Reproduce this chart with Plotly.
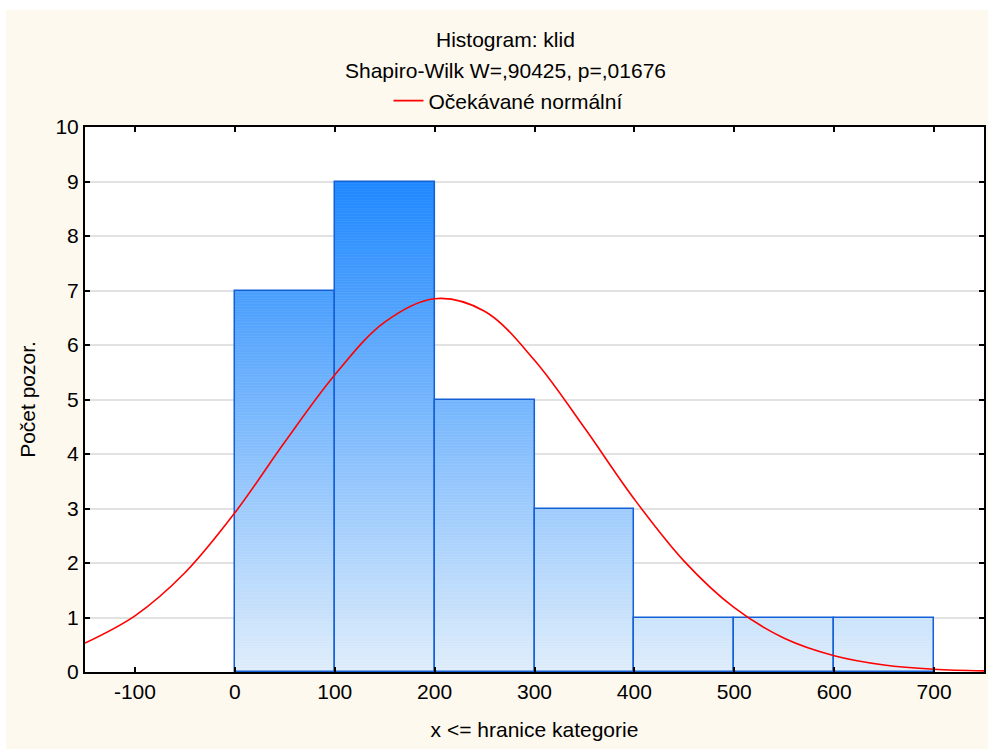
import plotly.graph_objects as go

# ---- data ----
bin_left = [0, 100, 200, 300, 400, 500, 600]
bin_right = [100, 200, 300, 400, 500, 600, 700]
counts = [7, 9, 5, 3, 1, 1, 1]

curve_x = [-150, -100, -50, 0, 50, 100, 150, 200, 250, 300, 350, 400, 450, 500, 550, 600, 650, 700, 750]
curve_y = [0.53, 1.03, 1.82, 2.92, 4.22, 5.45, 6.42, 6.85, 6.62, 5.72, 4.48, 3.17, 2.03, 1.18, 0.62, 0.30, 0.13, 0.05, 0.02]

x_ticks = [-100, 0, 100, 200, 300, 400, 500, 600, 700]
y_ticks = list(range(0, 11))

title1 = "Histogram: klid"
title2 = "Shapiro-Wilk W=,90425, p=,01676"
legend_name = "Očekávané normální"
x_title = "x <= hranice kategorie"
y_title = "Počet pozor."

# ---- styling ----
FONT = "Liberation Sans, Arial, sans-serif"
FS = 21
top_rgb = (30, 136, 255)
bot_rgb = (224, 238, 252)
grad_top = max(counts)
dh = 0.05

def grad_color(y):
    t = max(0.0, min(1.0, y / grad_top))
    r = [round(b + (a - b) * t) for a, b in zip(top_rgb, bot_rgb)]
    return f"rgb({r[0]},{r[1]},{r[2]})"

centers = [(l + r) / 2 for l, r in zip(bin_left, bin_right)]
widths = [r - l for l, r in zip(bin_left, bin_right)]

sx, sy, sb, sc, sw = [], [], [], [], []
for c, w, n in zip(centers, widths, counts):
    k = 0
    while k * dh < n - 1e-9:
        base = k * dh
        h = min(dh, n - base)
        sx.append(c)
        sy.append(h)
        sb.append(base)
        sc.append(grad_color(base + h / 2))
        sw.append(w)
        k += 1

fig = go.Figure()
fig.add_trace(go.Bar(
    x=sx, y=sy, base=sb, width=sw,
    marker=dict(color=sc, line=dict(color=sc, width=0.6)),
    showlegend=False, hoverinfo="skip"))
fig.add_trace(go.Bar(
    x=centers, y=counts, width=widths,
    marker=dict(color="rgba(0,0,0,0)", line=dict(color="#1560d6", width=1.5)),
    showlegend=False))
fig.add_trace(go.Scatter(
    x=curve_x, y=curve_y, mode="lines", name=legend_name,
    line=dict(color="#ff0000", width=1.6, shape="spline", smoothing=1.0)))

L, R, T, B = 85, 4, 127, 77
W, H = 988, 749
pw, ph = W - L - R, H - T - B

def px_to_paper_x(px):
    return (px - L) / pw

def px_to_paper_y(py):
    return (H - B - py) / ph

# cream page background, white plot area on top of it
fig.add_shape(type="rect", xref="paper", yref="paper",
              x0=px_to_paper_x(6), x1=px_to_paper_x(990),
              y0=px_to_paper_y(752), y1=px_to_paper_y(10),
              fillcolor="#fef9ee", line=dict(width=0), layer="below")
fig.add_shape(type="rect", xref="paper", yref="paper",
              x0=0, x1=1, y0=0, y1=1,
              fillcolor="white", line=dict(width=0), layer="below")

fig.add_annotation(text=title1, xref="paper", yref="paper",
                   x=px_to_paper_x(505), y=px_to_paper_y(40),
                   xanchor="center", yanchor="middle",
                   showarrow=False, font=dict(family=FONT, size=FS, color="black"))
fig.add_annotation(text=title2, xref="paper", yref="paper",
                   x=px_to_paper_x(505), y=px_to_paper_y(70),
                   xanchor="center", yanchor="middle",
                   showarrow=False, font=dict(family=FONT, size=FS, color="black"))

fig.update_layout(
    width=W, height=H,
    margin=dict(l=L, r=R, t=T, b=B, autoexpand=False),
    paper_bgcolor="white", plot_bgcolor="white",
    barmode="overlay", bargap=0,
    font=dict(family=FONT, size=FS, color="black"),
    showlegend=True,
    legend=dict(orientation="h", xref="container", yref="container",
                x=508 / W, xanchor="center", y=1 - 101 / H, yanchor="middle",
                bgcolor="rgba(0,0,0,0)", font=dict(family=FONT, size=FS)),
)
fig.update_xaxes(
    range=[-150, 750], tickvals=x_ticks, ticktext=[str(v) for v in x_ticks],
    ticks="inside", ticklen=5, tickwidth=1.5, tickcolor="black",
    showline=True, linecolor="black", linewidth=2, mirror="ticks",
    showgrid=False, zeroline=False,
    title=dict(text=x_title, standoff=20, font=dict(family=FONT, size=FS)),
    tickfont=dict(family=FONT, size=FS),
)
fig.update_yaxes(
    range=[0, 10], tickvals=y_ticks,
    ticks="inside", ticklen=5, tickwidth=1.5, tickcolor="black",
    showline=True, linecolor="black", linewidth=2, mirror="ticks",
    showgrid=True, gridcolor="#e2e2e2", gridwidth=1.5, zeroline=False,
    title=dict(text=y_title, standoff=14, font=dict(family=FONT, size=FS)),
    tickfont=dict(family=FONT, size=FS),
)

fig.write_html("out.html")
